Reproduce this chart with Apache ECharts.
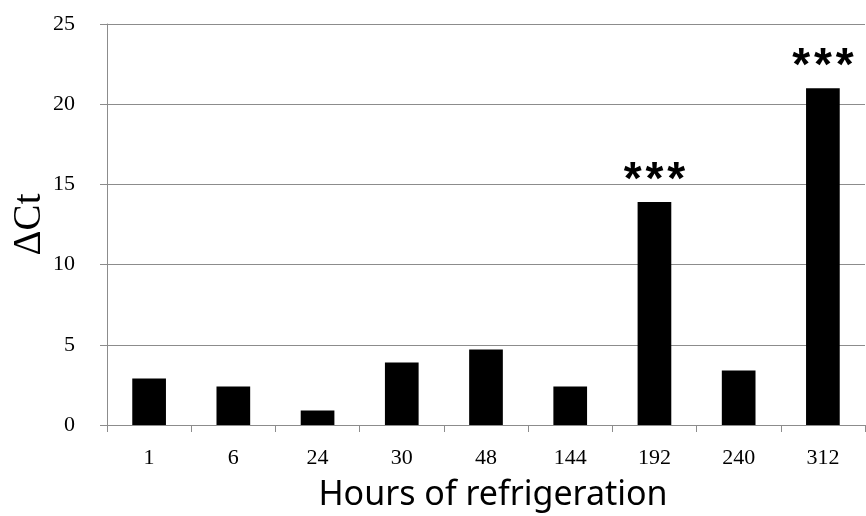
<!DOCTYPE html>
<html>
<head>
<meta charset="utf-8">
<script src="https://cdn.jsdelivr.net/npm/echarts@6/dist/echarts.min.js"></script>
<style>html,body{margin:0;padding:0;background:#fff;}#c{width:866px;height:516px;}</style>
</head>
<body>
<div id="c"></div>
<script>
const categories = ['1', '6', '24', '30', '48', '144', '192', '240', '312'];
const deltaCt = [2.9, 2.4, 0.9, 3.9, 4.7, 2.4, 13.9, 3.4, 21.0];
const significance = ['', '', '', '', '', '', '***', '', '***'];
const yTicks = [0, 5, 10, 15, 20, 25];

const chart = echarts.init(document.getElementById('c'));
chart.setOption({
  animation: false,
  backgroundColor: '#fff',
  grid: { left: 107, right: 1, top: 24, bottom: 91, containLabel: false, outerBoundsMode: 'none' },
  xAxis: {
    type: 'category',
    data: categories,
    name: 'Hours of refrigeration',
    nameLocation: 'middle',
    nameGap: 53,
    nameMoveOverlap: false,
    nameTextStyle: { fontFamily: 'Noto Sans', fontSize: 34, color: '#000', padding: [0, 0, 0, 14] },
    axisLine: { lineStyle: { color: '#8c8c8c', width: 1 } },
    axisTick: { show: true, length: 7, lineStyle: { color: '#8c8c8c' } },
    axisLabel: { fontFamily: 'Liberation Serif', fontSize: 22, color: '#000', margin: 22 }
  },
  yAxis: {
    type: 'value',
    min: yTicks[0],
    max: yTicks[yTicks.length - 1],
    interval: 5,
    name: 'ΔCt',
    nameLocation: 'middle',
    nameGap: 58,
    nameMoveOverlap: false,
    nameTextStyle: { fontFamily: 'Liberation Serif', fontSize: 39, color: '#000' },
    axisLine: { show: true, lineStyle: { color: '#8c8c8c', width: 1 } },
    axisTick: { show: true, length: 7, lineStyle: { color: '#8c8c8c' } },
    axisLabel: { fontFamily: 'Liberation Serif', fontSize: 22, color: '#000', margin: 32 },
    splitLine: { lineStyle: { color: '#8c8c8c', width: 1 } }
  },
  series: [{
    type: 'bar',
    data: deltaCt,
    barWidth: '40%',
    itemStyle: { color: '#000' },
    label: {
      show: true,
      position: 'top',
      distance: -2,
      formatter: p => significance[p.dataIndex].split('').join('\u200A'),
      fontFamily: 'Liberation Sans',
      fontWeight: 'bold',
      fontSize: 46,
      color: '#000'
    }
  }]
});
</script>
</body>
</html>
